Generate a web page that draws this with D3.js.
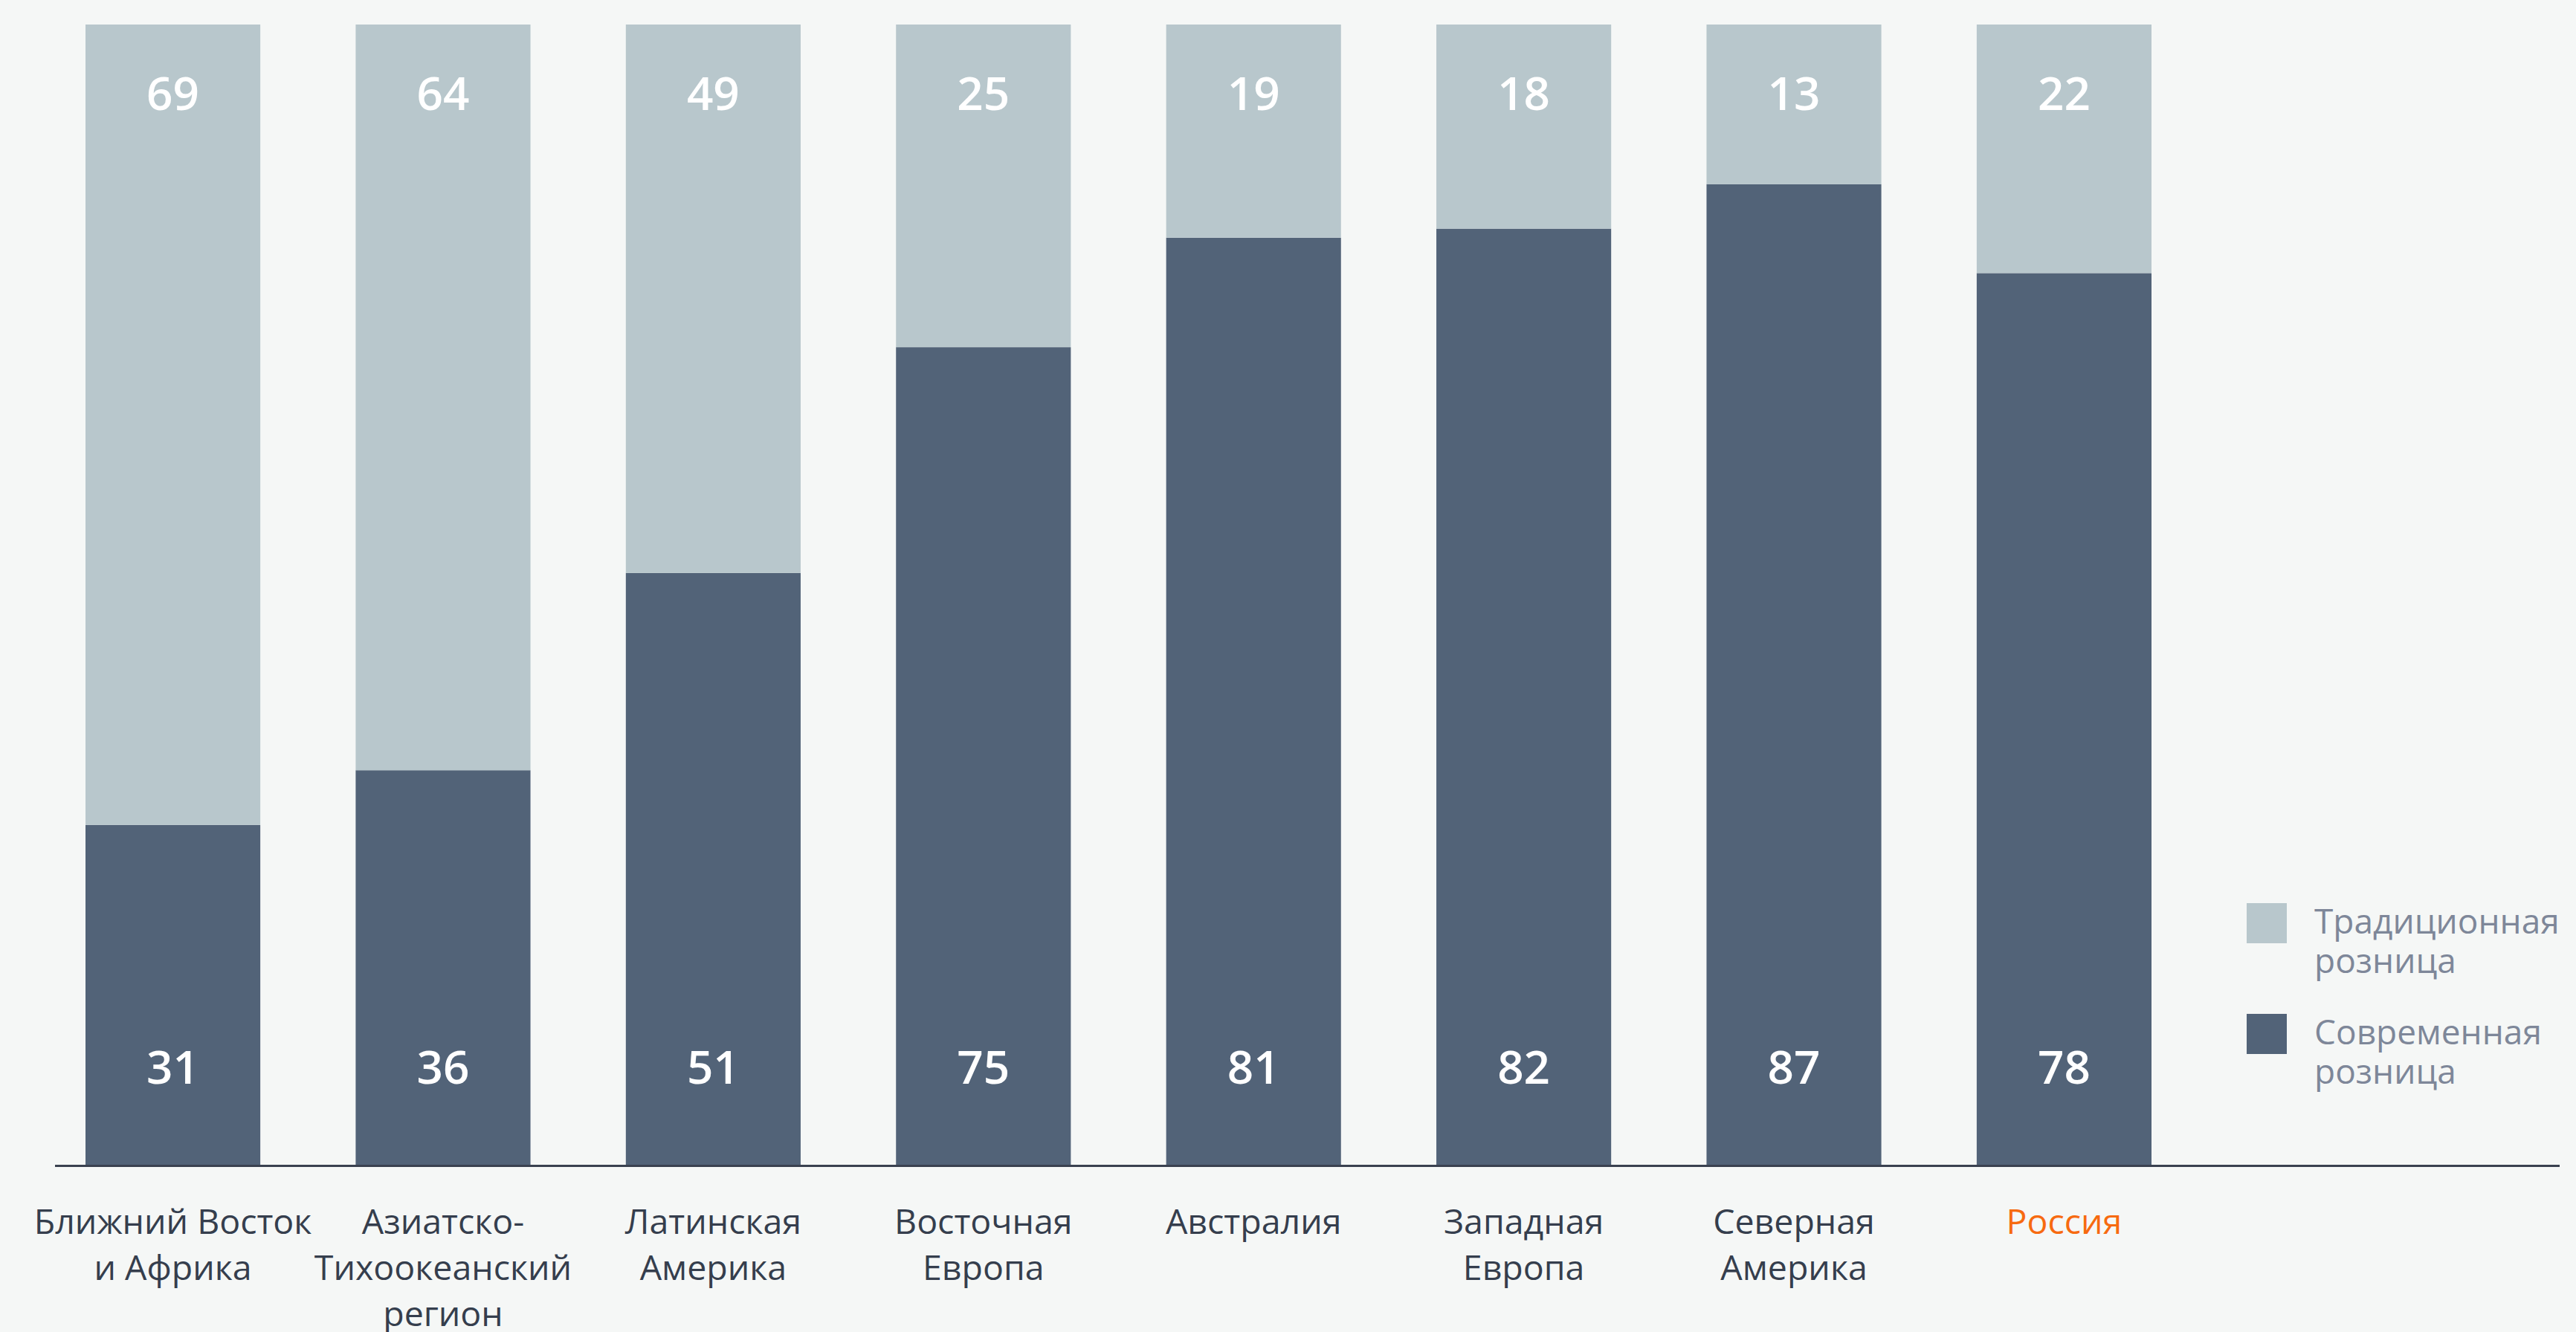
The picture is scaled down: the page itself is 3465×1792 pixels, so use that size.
<!DOCTYPE html>
<html>
<head>
<meta charset="utf-8">
<script src="https://cdn.jsdelivr.net/npm/d3@7"></script>
<style>
    body { margin: 0; background: #f5f7f6; }
    svg { display: block; }
</style>
</head>
<body>
<div id="chart"></div>
<script>
// regions, each label split into lines
const regions = [
    ["Ближний Восток", "и Африка"],
    ["Азиатско-", "Тихоокеанский", "регион"],
    ["Латинская", "Америка"],
    ["Восточная", "Европа"],
    ["Австралия"],
    ["Западная", "Европа"],
    ["Северная", "Америка"],
    ["Россия"]
];

// printed percentages
const modernLabels = [31, 36, 51, 75, 81, 82, 87, 78];
const traditionalLabels = [69, 64, 49, 25, 19, 18, 13, 22];

// bar shares as drawn in the picture
const modernShare = [29.8, 34.6, 51.9, 71.7, 81.3, 82.1, 86.0, 78.2];
const traditionalShare = [70.2, 65.4, 48.1, 28.3, 18.7, 17.9, 14.0, 21.8];

const legendItems = [
    { key: "traditional", lines: ["Традиционная", "розница"] },
    { key: "modern", lines: ["Современная", "розница"] }
];

const width = 3465;
const height = 1792;
const colours = { modern: "#526378", traditional: "#b8c7cc" };

const data = regions.map((r, i) => ({
    name: r.join(" "),
    lines: r,
    modern: modernShare[i],
    traditional: traditionalShare[i],
    modernLabel: modernLabels[i],
    traditionalLabel: traditionalLabels[i]
}));

const svg = d3.select("#chart").append("svg")
    .attr("width", width)
    .attr("height", height)
    .style("font-family", "'Open Sans', sans-serif");

svg.append("rect")
    .attr("width", width)
    .attr("height", height)
    .attr("fill", "#f5f7f6");

const x = d3.scaleBand()
    .domain(data.map(d => d.name))
    .range([115, 2894])
    .paddingInner(0.353)
    .paddingOuter(0);

const y = d3.scaleLinear()
    .domain([0, 100])
    .range([1567, 33]);

const stack = d3.stack().keys(["modern", "traditional"]);
const series = stack(data);

// stacked bars
svg.append("g")
    .selectAll("g")
    .data(series)
    .join("g")
    .attr("fill", s => colours[s.key])
    .selectAll("rect")
    .data(s => s)
    .join("rect")
    .attr("x", d => x(d.data.name))
    .attr("y", d => y(d[1]))
    .attr("width", x.bandwidth())
    .attr("height", d => y(d[0]) - y(d[1]));

// value labels, top and bottom of each bar
const values = svg.append("g")
    .attr("fill", "#ffffff")
    .attr("font-size", 62)
    .attr("font-weight", 600)
    .attr("text-anchor", "middle");

values.selectAll(".top")
    .data(data)
    .join("text")
    .attr("class", "top")
    .attr("x", d => x(d.name) + x.bandwidth() / 2)
    .attr("y", y(100) + 115)
    .text(d => d.traditionalLabel);

values.selectAll(".bottom")
    .data(data)
    .join("text")
    .attr("class", "bottom")
    .attr("x", d => x(d.name) + x.bandwidth() / 2)
    .attr("y", y(0) - 109)
    .text(d => d.modernLabel);

// x axis with multi-line labels
const axis = svg.append("g")
    .attr("transform", `translate(0,${y(0)})`)
    .call(d3.axisBottom(x).tickSize(0).tickPadding(0));

axis.select(".domain").remove();

axis.selectAll(".tick text")
    .attr("font-size", 46.5)
    .attr("font-family", "'Open Sans', sans-serif")
    .attr("fill", (d, i) => i === data.length - 1 ? "#f76a10" : "#353e4d")
    .attr("dy", null)
    .attr("y", 0)
    .text(null)
    .each(function (d, i) {
        d3.select(this).selectAll("tspan")
            .data(data[i].lines)
            .join("tspan")
            .attr("x", 0)
            .attr("y", (l, j) => 93 + j * 62)
            .text(l => l);
    });

svg.append("line")
    .attr("x1", 74)
    .attr("x2", 3443)
    .attr("y1", y(0) + 1.5)
    .attr("y2", y(0) + 1.5)
    .attr("stroke", "#3a4150")
    .attr("stroke-width", 3);

// legend
const legend = svg.append("g")
    .attr("transform", "translate(3022,1215)");

const legendRows = legend.selectAll("g")
    .data(legendItems)
    .join("g")
    .attr("transform", (d, i) => `translate(0,${i * 149})`);

legendRows.append("rect")
    .attr("width", 54)
    .attr("height", 54)
    .attr("fill", d => colours[d.key]);

legendRows.append("text")
    .attr("x", 91)
    .attr("font-size", 46)
    .attr("fill", "#7e8799")
    .selectAll("tspan")
    .data(d => d.lines)
    .join("tspan")
    .attr("x", 91)
    .attr("y", (l, j) => 41 + j * 53)
    .text(l => l);
</script>
</body>
</html>
